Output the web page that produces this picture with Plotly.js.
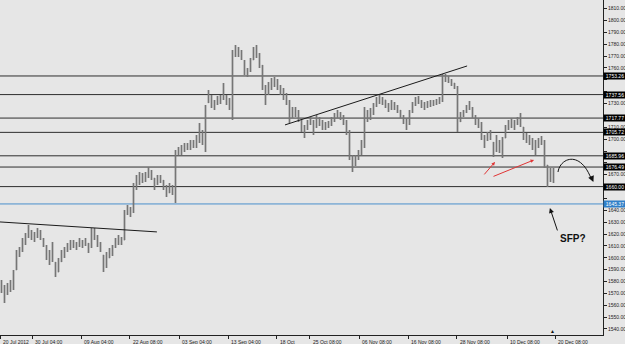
<!DOCTYPE html>
<html>
<head>
<meta charset="utf-8">
<script src="https://cdn.plot.ly/plotly-3.0.1.min.js"></script>
<style>
html,body{margin:0;padding:0;background:#e6e6e6;}
#chart{width:625px;height:344px;}
</style>
</head>
<body>
<div id="chart"></div>
<script>
// ---- Data (XAUUSD, H4 bars, grouped) ----
const highs = [
1581.3,1577.1,1578.8,1581.3,1589.7,1606.6,1609.1,1616.7,1620.9,1627.7,
1623.4,1621.8,1625.1,1623.4,1616.7,1610.8,1606.6,1613.3,1596.5,1599.8,
1606.6,1609.1,1612.5,1615.0,1615.0,1613.3,1616.7,1615.0,1616.7,1612.5,
1625.1,1625.1,1619.2,1613.3,1602.4,1604.9,1608.3,1610.8,1616.7,1619.2,
1617.5,1640.3,1644.5,1642.8,1663.1,1669.8,1672.3,1671.5,1672.3,1676.6,
1674.0,1667.3,1669.8,1669.8,1665.6,1661.4,1663.1,1661.4,1690.9,1693.4,
1695.1,1696.8,1696.8,1699.3,1699.3,1703.5,1713.6,1707.7,1728.8,1741.5,
1737.2,1733.0,1736.4,1737.2,1747.4,1737.2,1734.7,1775.2,1779.4,1777.7,
1775.2,1766.8,1760.0,1768.4,1777.7,1779.4,1772.7,1762.5,1745.7,1748.2,
1751.6,1752.4,1750.7,1745.7,1743.1,1738.9,1733.0,1727.1,1727.1,1724.6,
1717.9,1712.0,1716.2,1718.7,1716.2,1720.4,1718.7,1716.2,1714.5,1715.3,
1718.7,1722.1,1724.6,1722.9,1720.4,1716.2,1707.7,1686.7,1686.7,1690.9,
1699.3,1727.1,1724.6,1726.3,1730.5,1735.6,1737.2,1735.6,1733.0,1730.5,
1733.0,1731.3,1728.8,1724.6,1720.4,1717.9,1724.6,1731.3,1735.6,1736.4,
1733.0,1731.3,1732.2,1733.0,1733.0,1733.9,1735.6,1755.0,1754.9,1753.3,
1750.7,1747.4,1744.8,1722.9,1724.6,1728.8,1732.2,1727.1,1720.4,1717.9,
1714.5,1703.5,1706.1,1707.7,1697.6,1703.5,1699.3,1701.8,1712.0,1716.2,
1717.9,1716.2,1718.7,1722.1,1710.3,1705.2,1703.5,1701.0,1699.3,1701.0,
1702.7,1699.3,1678.2,1675.7,1675.7
];
const lows = [
1570.3,1561.9,1568.6,1571.2,1572.9,1589.7,1600.7,1604.9,1610.8,1616.7,
1615.0,1613.3,1616.7,1615.0,1609.1,1598.2,1593.9,1596.5,1583.8,1588.0,
1596.5,1599.8,1604.9,1606.6,1608.3,1606.6,1609.1,1608.3,1610.0,1604.1,
1608.3,1615.0,1609.1,1604.9,1588.0,1591.4,1599.8,1601.5,1608.3,1610.8,
1610.8,1615.0,1636.1,1634.4,1637.8,1657.2,1661.4,1663.1,1663.9,1667.3,
1665.6,1657.2,1661.4,1663.1,1657.2,1651.3,1654.6,1652.9,1646.2,1686.7,
1686.7,1689.2,1690.9,1690.9,1692.6,1692.6,1696.8,1695.1,1689.2,1730.5,
1726.3,1724.6,1728.8,1729.7,1733.0,1728.8,1724.6,1716.2,1769.3,1769.3,
1766.8,1754.1,1752.4,1756.6,1766.8,1768.4,1760.0,1741.5,1728.8,1737.2,
1741.5,1744.0,1741.5,1737.2,1733.0,1728.8,1713.6,1717.9,1718.7,1714.5,
1706.1,1701.0,1707.7,1712.0,1703.5,1709.4,1711.1,1707.7,1707.7,1709.4,
1711.1,1714.5,1717.9,1716.2,1712.0,1703.5,1682.5,1672.3,1677.4,1682.5,
1686.7,1692.6,1714.5,1716.2,1720.4,1727.1,1729.7,1728.8,1726.3,1722.9,
1724.6,1724.6,1722.1,1717.9,1712.8,1707.7,1712.0,1722.1,1728.0,1729.7,
1726.3,1724.6,1726.3,1727.1,1728.0,1728.8,1729.7,1731.3,1748.2,1747.4,
1744.8,1742.3,1706.1,1714.5,1718.7,1722.1,1724.6,1717.9,1712.0,1709.4,
1699.3,1692.6,1698.5,1699.3,1685.0,1689.2,1688.4,1684.1,1701.0,1707.7,
1709.4,1707.7,1712.0,1710.3,1699.3,1696.8,1695.1,1690.9,1686.7,1692.6,
1695.1,1675.7,1659.7,1663.9,1663.1
];
const opens = [
1578,1575,1572,1576,1578,1590,1604,1606,1614,1618,
1620,1618,1620,1619,1616,1610,1602,1604,1596,1588,
1597,1603,1607,1610,1612,1611,1612,1614,1613,1612,
1609,1620,1617,1612,1602,1592,1600,1605,1609,1614,
1616,1615,1638,1640,1639,1660,1666,1668,1667,1670,
1672,1667,1662,1666,1665,1660,1655,1660,1655,1688,
1690,1692,1694,1693,1697,1696,1700,1702,1697,1731,
1735,1730,1731,1734,1735,1736,1731,1727,1772,1774,
1772,1766,1757,1758,1767,1775,1771,1762,1745,1741,
1746,1749,1748,1745,1740,1736,1732,1722,1725,1720,
1716,1709,1710,1714,1713,1712,1716,1713,1711,1712,
1714,1717,1720,1721,1718,1714,1705,1685,1678,1684,
1689,1697,1722,1717,1724,1729,1733,1732,1733,1728,
1726,1730,1727,1724,1719,1714,1715,1723,1730,1733,
1731,1729,1730,1729,1731,1730,1732,1733,1752,1752,
1750,1747,1744,1715,1720,1723,1727,1726,1719,1714,
1711,1702,1700,1704,1697,1690,1696,1692,1701,1710,
1713,1712,1714,1716,1710,1702,1699,1697,1693,1695,
1699,1698,1678,1665,1670
];
const closes = [
1575,1572,1576,1578,1588,1604,1606,1614,1618,1620,
1618,1620,1619,1616,1611,1602,1604,1598,1588,1597,
1603,1607,1610,1612,1611,1612,1614,1613,1612,1609,
1620,1617,1612,1606,1592,1600,1605,1608,1614,1616,
1615,1638,1640,1639,1660,1666,1668,1667,1670,1672,
1668,1661,1666,1665,1660,1655,1660,1655,1688,1690,
1692,1694,1693,1697,1696,1700,1702,1697,1726,1735,
1730,1731,1734,1735,1736,1731,1727,1772,1774,1772,
1768,1757,1758,1767,1775,1771,1763,1745,1741,1746,
1749,1748,1745,1740,1736,1732,1722,1725,1720,1716,
1709,1710,1714,1713,1712,1716,1713,1711,1712,1714,
1717,1720,1721,1718,1714,1705,1685,1678,1684,1689,
1697,1722,1717,1724,1729,1733,1732,1734,1728,1726,
1730,1727,1724,1719,1714,1715,1723,1730,1733,1731,
1729,1730,1729,1731,1730,1732,1733,1752,1752,1750,
1747,1744,1715,1720,1723,1727,1726,1719,1714,1711,
1702,1700,1704,1701,1690,1696,1692,1699,1710,1713,
1712,1714,1716,1712,1702,1699,1697,1693,1695,1699,
1698,1678,1665,1670,1666
];

// x-axis labels and the bar index each one sits on
const tickBars = [-0.45, 10.17, 26.5, 42.8, 59.2, 75.5, 91.8, 102.8, 119.2, 135.5, 151.8, 168.5, 184.5];
const tickLabels = ["20 Jul 2012","30 Jul 04:00","09 Aug 04:00","22 Aug 08:00","03 Sep 04:00","13 Sep 04:00","18 Oct","25 Oct 08:00","06 Nov 08:00","16 Nov 08:00","28 Nov 08:00","10 Dec 08:00","20 Dec 08:00"];

// horizontal price levels
const levels = [1753.26, 1737.56, 1717.77, 1705.72, 1685.96, 1676.49, 1660.00];
const bidLevel = 1645.37;

// y ticks (labels hidden under the level boxes are left blank)
const yTicks = [1540,1550,1560,1570,1580,1590,1600,1610,1620,1630,1640,1650,1660,1670,1680,1690,1700,1710,1720,1730,1740,1750,1760,1770,1780,1790,1800,1810];
const yTickText = ["1540.00","1550.00","1560.00","1570.00","1580.00","1590.00","1600.00","1610.00","1620.00","1630.00","1640.00","","","1670.00","","","1700.00","1710.00","","1730.00","","","1760.00","1770.00","1780.00","1790.00","1800.00","1810.00"];

// trendlines [bar0, price0, bar1, price1]
const trend1 = [-0.5, 1630.2, 51.8, 1621.8];
const trend2 = [94.5, 1712.0, 155.2, 1761.7];

const FONT = "Liberation Sans, Arial, sans-serif";

const shapes = [];
levels.forEach(v => shapes.push({type:'line', xref:'paper', x0:0, x1:1, yref:'y', y0:v, y1:v,
  line:{color:'#2e2e2e', width:1}, layer:'below'}));
shapes.push({type:'line', xref:'paper', x0:0, x1:1, yref:'y', y0:bidLevel, y1:bidLevel,
  line:{color:'#4a8fcc', width:1}, layer:'below'});
[trend1, trend2].forEach(t => shapes.push({type:'line', xref:'x', yref:'y', x0:t[0], y0:t[1], x1:t[2], y1:t[3],
  line:{color:'#1a1a1a', width:1}}));
// curved arrow
shapes.push({type:'path', xref:'x', yref:'y',
  path:'M 185.5 1672.3 C 186.2 1684.1, 192.8 1690.9, 196.5 1667.0',
  line:{color:'#111', width:1}});

const annotations = [];
levels.forEach(v => annotations.push({xref:'paper', x:1, xanchor:'left', yref:'y', y:v, yanchor:'middle',
  text:v.toFixed(2), showarrow:false, font:{family:FONT, size:5, color:'#ffffff'},
  bgcolor:'#000000', borderpad:0, width:22, height:6}));
annotations.push({xref:'paper', x:1, xanchor:'left', yref:'y', y:bidLevel, yanchor:'middle',
  text:bidLevel.toFixed(2), showarrow:false, font:{family:FONT, size:5, color:'#ffffff'},
  bgcolor:'#2f7fc8', borderpad:0, width:22, height:6});
// x-axis labels, left-aligned on their tick marks
tickBars.forEach((b, i) => annotations.push({xref:'x', x:b, xanchor:'left', xshift:1,
  yref:'paper', y:0, yanchor:'top', yshift:-2, text:tickLabels[i], showarrow:false,
  font:{family:FONT, size:5, color:'#222'}}));
// red arrows
annotations.push({xref:'x', yref:'y', x:164.5, y:1680.8, axref:'x', ayref:'y', ax:160.5, ay:1669.0,
  showarrow:true, arrowhead:2, arrowsize:0.7, arrowwidth:1, arrowcolor:'#e03535', text:''});
annotations.push({xref:'x', yref:'y', x:177.5, y:1682.5, axref:'x', ayref:'y', ax:163.5, ay:1668.1,
  showarrow:true, arrowhead:2, arrowsize:0.7, arrowwidth:1, arrowcolor:'#e03535', text:''});
// head of curved arrow
annotations.push({xref:'x', yref:'y', x:197.3, y:1663.9, ax:-3, ay:-7,
  showarrow:true, arrowhead:2, arrowsize:1.2, arrowwidth:1, arrowcolor:'#111', text:''});
// SFP arrow
annotations.push({xref:'x', yref:'y', x:182.8, y:1642.0, ax:8, ay:24,
  showarrow:true, arrowhead:2, arrowsize:1, arrowwidth:1, arrowcolor:'#111', text:''});
annotations.push({xref:'x', yref:'y', x:190.5, y:1615.9, text:'<b>SFP?</b>', showarrow:false,
  font:{family:FONT, size:10, color:'#111'}});
// chart shift marker
annotations.push({xref:'x', x:183.5, yref:'paper', y:0, yanchor:'bottom', text:'▲', showarrow:false,
  font:{family:FONT, size:5, color:'#111'}, yshift:-1});

const trace = {
  type:'ohlc', open:opens, high:highs, low:lows, close:closes,
  increasing:{line:{color:'#767676', width:1.7}},
  decreasing:{line:{color:'#767676', width:1.7}},
  tickwidth:0.22, hoverinfo:'skip', showlegend:false
};

const layout = {
  width:625, height:344,
  margin:{l:0, r:22, t:0, b:9},
  paper_bgcolor:'#e6e6e6', plot_bgcolor:'#e6e6e6',
  showlegend:false,
  font:{family:FONT, size:5, color:'#222'},
  xaxis:{range:[-0.5, 200.5], rangeslider:{visible:false}, showgrid:false, zeroline:false,
    showline:true, linecolor:'#222', linewidth:1, ticks:'outside', ticklen:3, tickcolor:'#222',
    tickmode:'array', tickvals:tickBars, showticklabels:false, fixedrange:true},
  yaxis:{range:[1534.9, 1817.3], side:'right', showgrid:false, zeroline:false,
    showline:true, linecolor:'#222', linewidth:1, ticks:'outside', ticklen:3, tickcolor:'#222',
    tickmode:'array', tickvals:yTicks, ticktext:yTickText,
    tickfont:{family:FONT, size:5, color:'#222'}, fixedrange:true},
  shapes:shapes, annotations:annotations
};

Plotly.newPlot('chart', [trace], layout, {staticPlot:true, displayModeBar:false});
</script>
</body>
</html>
